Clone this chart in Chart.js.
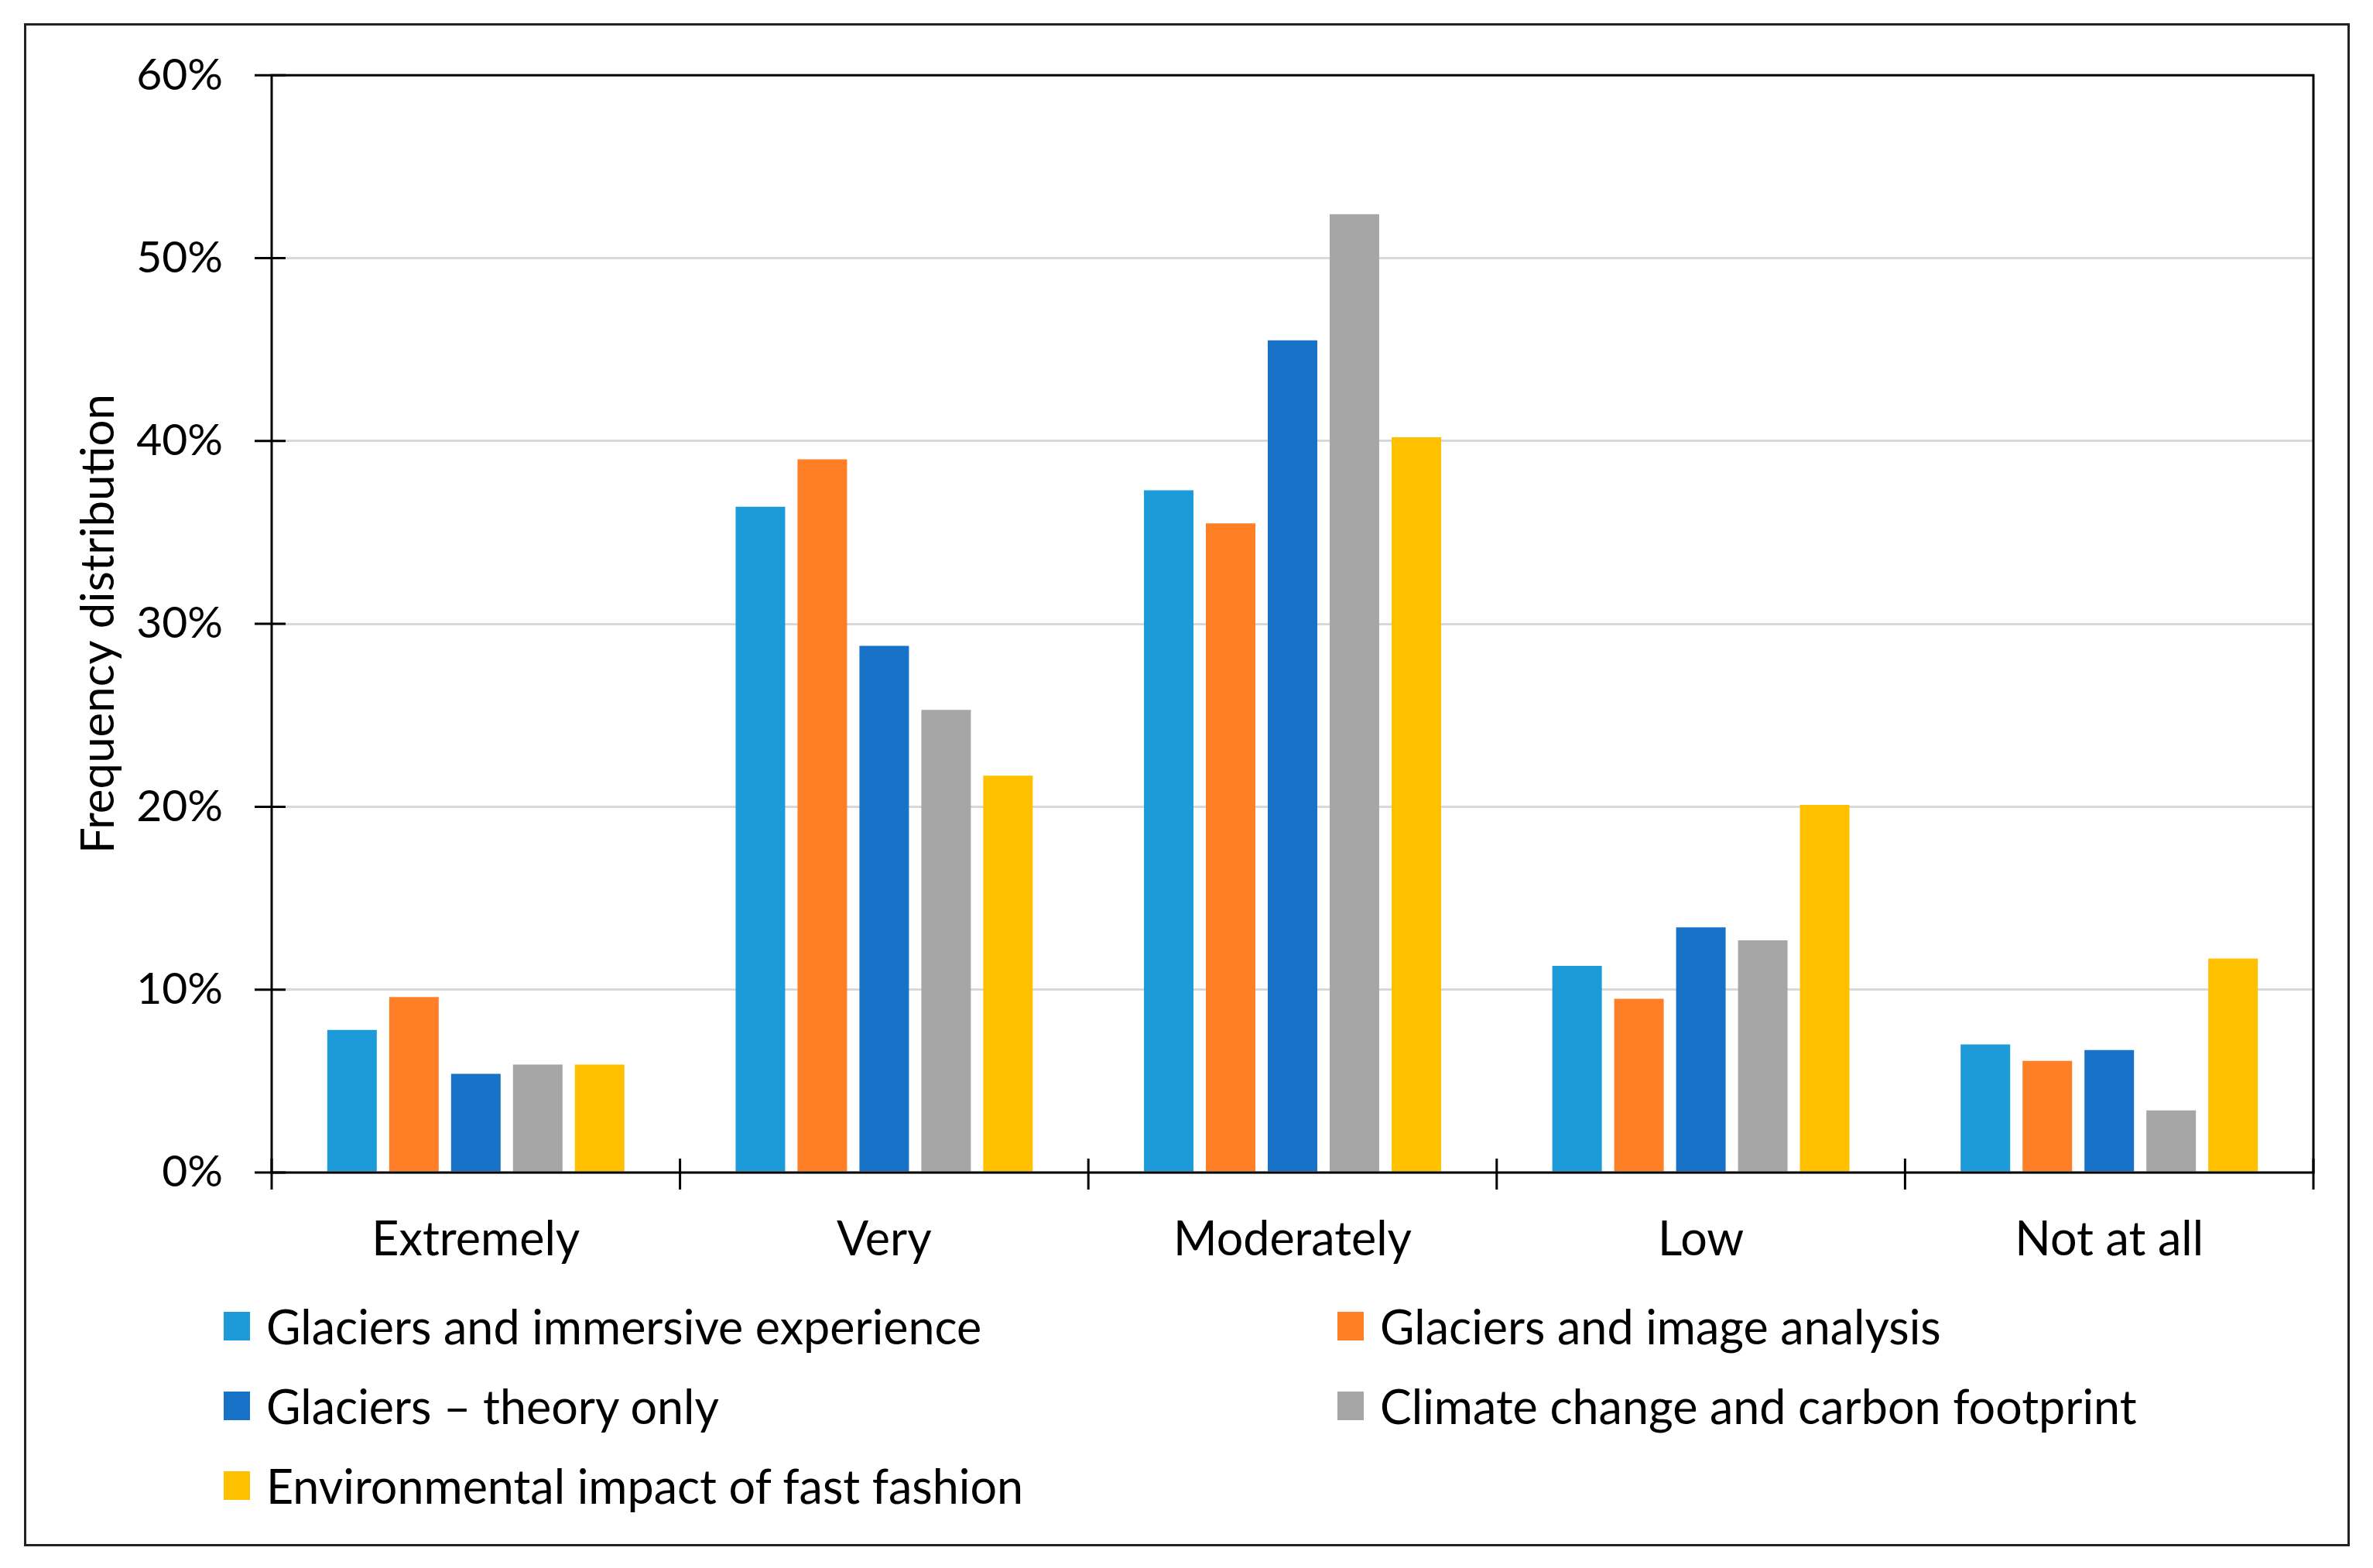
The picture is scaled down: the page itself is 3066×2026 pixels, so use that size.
<!DOCTYPE html>
<html>
<head>
<meta charset="utf-8">
<title>Frequency distribution</title>
<script src="https://cdn.jsdelivr.net/npm/chart.js@4.4.1/dist/chart.umd.min.js"></script>
<style>
  html, body { margin: 0; padding: 0; background: #fff; }
  #wrap { position: relative; width: 3066px; height: 2026px; }
  #chart { position: absolute; left: 0; top: 0; }
  #frame { position: absolute; left: 31px; top: 30px; width: 3005px; height: 1968px;
           border: 3px solid #222; box-sizing: border-box; pointer-events: none; }
  #legend { position: absolute; left: 0; top: 0; font-family: Lato, sans-serif; font-size: 61px; color: #000; }
  .lg-item { position: absolute; display: flex; align-items: center; height: 80px; white-space: nowrap; }
  .lg-box { width: 34px; height: 37px; margin-right: 21px; flex: none; }
</style>
</head>
<body>
<div id="wrap">
  <canvas id="chart" width="3066" height="2026"></canvas>
  <div id="legend"></div>
  <div id="frame"></div>
</div>
<script>
/* ── Data ────────────────────────────────────────── */
const categories = ['Extremely', 'Very', 'Moderately', 'Low', 'Not at all'];
const seriesNames = [
  'Glaciers and immersive experience',
  'Glaciers and image analysis',
  'Glaciers \u2013 theory only',
  'Climate change and carbon footprint',
  'Environmental impact of fast fashion',
];
const immersive   = [7.8, 36.4, 37.3, 11.3, 7.0];
const imageAnal   = [9.6, 39.0, 35.5, 9.5, 6.1];
const theoryOnly  = [5.4, 28.8, 45.5, 13.4, 6.7];
const climate     = [5.9, 25.3, 52.4, 12.7, 3.4];
const fastFashion = [5.9, 21.7, 40.2, 20.1, 11.7];
const yTicks = [0, 10, 20, 30, 40, 50, 60];

const seriesValues = [immersive, imageAnal, theoryOnly, climate, fastFashion];
const seriesColors = ['#1D9BD8', '#FF7F27', '#1772C8', '#A6A6A6', '#FFC000'];

/* ── Frame + crossing tick marks ─────────────────── */
const axisFrame = {
  id: 'axisFrame',
  afterDraw(chart) {
    const { ctx, chartArea: a, scales: { x, y } } = chart;
    ctx.save();
    ctx.strokeStyle = '#000';
    ctx.lineWidth = 3;
    ctx.strokeRect(a.left, a.top, a.right - a.left, a.bottom - a.top);
    ctx.beginPath();
    y.ticks.forEach((t, i) => {
      const py = y.getPixelForTick(i);
      ctx.moveTo(a.left - 22, py);
      ctx.lineTo(a.left + 18, py);
    });
    for (let i = 0; i <= categories.length; i++) {
      const px = x.getPixelForValue(i - 0.5);
      ctx.moveTo(px, a.bottom - 18);
      ctx.lineTo(px, a.bottom + 22);
    }
    ctx.stroke();
    ctx.restore();
  }
};

const font = 'Lato, sans-serif';

const chart = new Chart(document.getElementById('chart'), {
  type: 'bar',
  data: {
    labels: categories,
    datasets: seriesNames.map((name, i) => ({
      label: name,
      data: seriesValues[i],
      backgroundColor: seriesColors[i],
      borderWidth: 0,
      barPercentage: 0.8,
      categoryPercentage: 0.758,
    }))
  },
  options: {
    responsive: false,
    animation: false,
    layout: { padding: { top: 89, right: 77, left: 60, bottom: 381 } },
    plugins: { legend: { display: false }, tooltip: { enabled: false } },
    scales: {
      x: {
        grid: { display: false, drawTicks: false },
        border: { display: false },
        ticks: { color: '#000', padding: 51, font: { family: font, size: 61 } },
        afterFit: s => { s.height = 130; }
      },
      y: {
        min: 0, max: 60,
        afterBuildTicks: s => { s.ticks = yTicks.map(v => ({ value: v })); },
        grid: { color: '#d9d9d9', lineWidth: 3, drawTicks: false },
        border: { display: false },
        ticks: { color: '#000', padding: 63, font: { family: font, size: 57 }, callback: v => v + '%' },
        title: {
          display: true, text: 'Frequency distribution', color: '#000',
          font: { family: font, size: 60 }, padding: { top: 32, bottom: 0 }
        },
        afterFit: s => { s.width = 291; }
      }
    }
  },
  plugins: [axisFrame]
});

/* ── Legend (two columns) ────────────────────────── */
const legendCols = [289, 1728];
const legendRows = [1713, 1816, 1919];
const legendEl = document.getElementById('legend');
chart.data.datasets.forEach((ds, i) => {
  const item = document.createElement('div');
  item.className = 'lg-item';
  item.style.left = legendCols[i % 2] + 'px';
  item.style.top = (legendRows[Math.floor(i / 2)] - 40) + 'px';
  const box = document.createElement('span');
  box.className = 'lg-box';
  box.style.background = ds.backgroundColor;
  const txt = document.createElement('span');
  txt.textContent = ds.label;
  item.appendChild(box);
  item.appendChild(txt);
  legendEl.appendChild(item);
});
</script>
</body>
</html>
